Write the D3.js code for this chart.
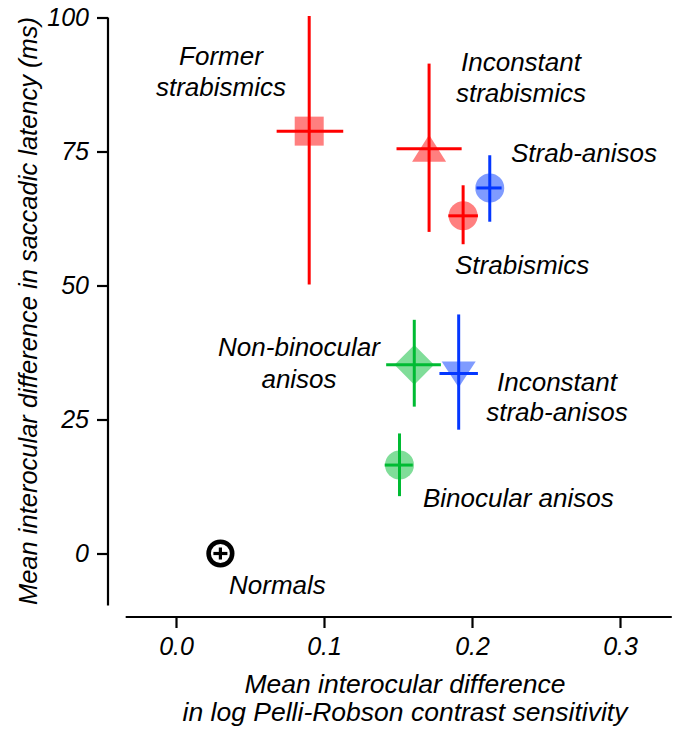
<!DOCTYPE html>
<html><head><meta charset="utf-8">
<script src="https://cdn.jsdelivr.net/npm/d3@7/dist/d3.min.js"></script>
<style>body{margin:0;background:#fff;} text{font-family:"Liberation Sans",Arial,Helvetica,sans-serif;font-style:italic;}</style>
</head><body>
<script>
const groups = ["Normals","Former strabismics","Inconstant strabismics","Strabismics","Strab-anisos","Non-binocular anisos","Inconstant strab-anisos","Binocular anisos"];
const xMean = [0.03, 0.090, 0.171, 0.194, 0.212, 0.161, 0.191, 0.151];
const xLo   = [0.03, 0.068, 0.149, 0.184, 0.203, 0.142, 0.178, 0.141];
const xHi   = [0.03, 0.113, 0.193, 0.204, 0.220, 0.179, 0.204, 0.160];
const yMean = [0, 78.8, 75.5, 63.0, 68.2, 35.2, 33.6, 16.5];
const yLo   = [0, 50.2, 60.0, 57.7, 61.9, 27.4, 23.1, 10.7];
const yHi   = [0, 100.3, 91.4, 68.7, 74.3, 43.6, 44.6, 22.4];
const shapes = ["normal","square","triangle","circle","circle","diamond","triangleDown","circle"];
const colorKey = ["black","red","red","red","blue","green","blue","green"];
const xTicks = [0.0, 0.1, 0.2, 0.3];
const yTicks = [0, 25, 50, 75, 100];

const lineCol = {red:"#ff0000", blue:"#0437ff", green:"#00bb33", black:"#000"};
const fillCol = {red:"#ff7f7f", blue:"#7f9bff", green:"#80dd99", black:"none"};

const W = 673, H = 730;
const svg = d3.select("body").append("svg").attr("width",W).attr("height",H);
const x = d3.scaleLinear().domain([0,0.3]).range([176,620]);
const y = d3.scaleLinear().domain([0,100]).range([553.5,17.5]);

// axes
const yAxis = svg.append("g").attr("transform","translate(108,0)")
  .call(d3.axisLeft(y).tickValues(yTicks).tickSize(11).tickPadding(8).tickFormat(d3.format("d")));
yAxis.select(".domain").attr("d", `M0,${y(100)}V${y(-9.7)}`);
const xAxis = svg.append("g").attr("transform","translate(0,617)")
  .call(d3.axisBottom(x).tickValues(xTicks).tickSize(11).tickPadding(9).tickFormat(d3.format(".1f")));
xAxis.select(".domain").attr("d", `M${x(-0.034)},0H${x(0.335)}`);
[yAxis, xAxis].forEach(a => a.attr("font-size", 25).attr("font-family", "'Liberation Sans',Arial,sans-serif"));
svg.selectAll(".tick line, .domain").attr("stroke","#000").attr("stroke-width",2.2);
svg.selectAll(".tick text").attr("font-size",25).attr("fill","#000").style("font-style","italic");

// axis titles
svg.append("text").attr("transform",`translate(37,311) rotate(-90)`)
  .attr("text-anchor","middle").attr("font-size",25.5).text("Mean interocular difference in saccadic latency (ms)");
svg.append("text").attr("x",405).attr("y",693).attr("text-anchor","middle").attr("font-size",26.5).text("Mean interocular difference");
svg.append("text").attr("x",405).attr("y",721).attr("text-anchor","middle").attr("font-size",26.5).text("in log Pelli-Robson contrast sensitivity");

// markers
const sym = {
  square: d3.symbol().type(d3.symbolSquare).size(29*29),
  circle: d3.symbol().type(d3.symbolCircle).size(Math.PI*14.5*14.5),
  diamond: d3.symbol().type(d3.symbolSquare).size(28*28)
};
groups.forEach((g,i)=>{
  const cx = x(xMean[i]), cy = y(yMean[i]);
  const k = colorKey[i];
  const gg = svg.append("g");
  if (shapes[i]==="normal"){
    gg.append("circle").attr("cx",cx).attr("cy",cy).attr("r",11.8).attr("fill","none").attr("stroke","#000").attr("stroke-width",4.6);
    gg.append("line").attr("x1",cx-7).attr("x2",cx+7).attr("y1",cy).attr("y2",cy).attr("stroke","#000").attr("stroke-width",3.2);
    gg.append("line").attr("x1",cx).attr("x2",cx).attr("y1",cy-6).attr("y2",cy+6).attr("stroke","#000").attr("stroke-width",3.2);
    return;
  }
  if (shapes[i]==="square") gg.append("path").attr("d",sym.square()).attr("transform",`translate(${cx},${cy})`).attr("fill",fillCol[k]);
  if (shapes[i]==="circle") gg.append("path").attr("d",sym.circle()).attr("transform",`translate(${cx},${cy})`).attr("fill",fillCol[k]);
  if (shapes[i]==="diamond") gg.append("path").attr("d",sym.diamond()).attr("transform",`translate(${cx},${cy}) rotate(45)`).attr("fill",fillCol[k]);
  if (shapes[i]==="triangle") gg.append("path").attr("d",`M${cx},${cy-14}L${cx+17},${cy+13}L${cx-17},${cy+13}Z`).attr("fill",fillCol[k]);
  if (shapes[i]==="triangleDown") gg.append("path").attr("d",`M${cx},${cy+14}L${cx+17},${cy-12}L${cx-17},${cy-12}Z`).attr("fill",fillCol[k]);
  gg.append("line").attr("x1",x(xLo[i])).attr("x2",x(xHi[i])).attr("y1",cy).attr("y2",cy).attr("stroke",lineCol[k]).attr("stroke-width",3);
  gg.append("line").attr("x1",cx).attr("x2",cx).attr("y1",y(yLo[i])).attr("y2",y(yHi[i])).attr("stroke",lineCol[k]).attr("stroke-width",3);
});

// labels
const labels = [
  {t:["Former","strabismics"], x:221, y:[65,96], a:"middle"},
  {t:["Inconstant","strabismics"], x:521, y:[71,102], a:"middle"},
  {t:["Strab-anisos"], x:511, y:[162], a:"start"},
  {t:["Strabismics"], x:455, y:[274], a:"start"},
  {t:["Non-binocular","anisos"], x:299, y:[356,388], a:"middle"},
  {t:["Inconstant","strab-anisos"], x:557, y:[391,421], a:"middle"},
  {t:["Binocular anisos"], x:423, y:[507], a:"start"},
  {t:["Normals"], x:229, y:[594], a:"start"}
];
labels.forEach(l=>{
  l.t.forEach((s,j)=>{
    svg.append("text").attr("x",l.x).attr("y",l.y[j]).attr("text-anchor",l.a).attr("font-size",26).text(s);
  });
});
</script>
</body></html>
